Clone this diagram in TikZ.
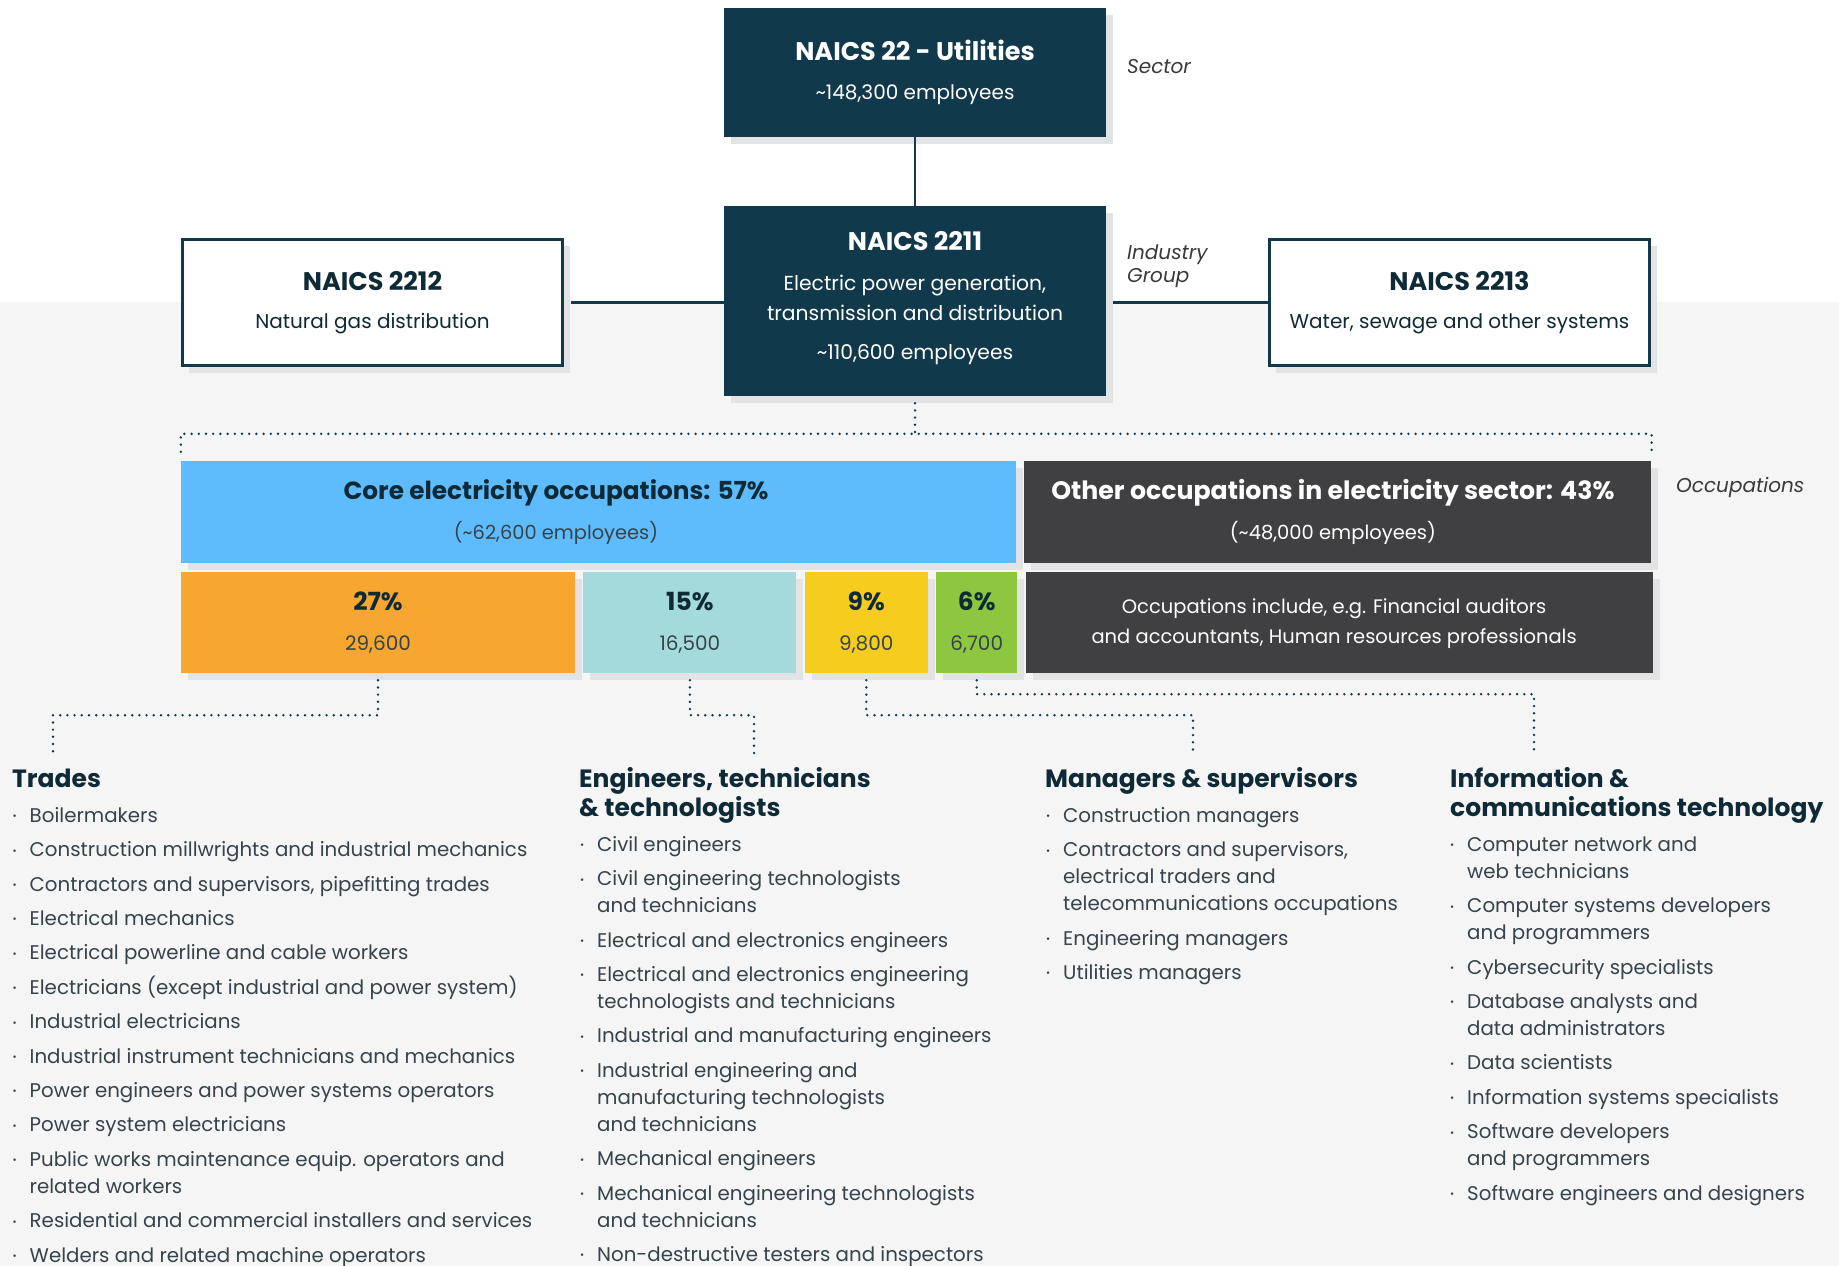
\documentclass[tikz,border=0pt]{standalone}
\usepackage{fontspec}
\setmainfont{Poppins}
\usetikzlibrary{positioning,shadows}

\definecolor{navy}{HTML}{10394B}
\definecolor{ink}{HTML}{0E2A36}
\definecolor{slate}{HTML}{36434A}
\definecolor{paper}{HTML}{F5F5F5}
\definecolor{shade}{HTML}{E2E3E4}
\definecolor{sky}{HTML}{5EBCFD}
\definecolor{coal}{HTML}{404042}
\definecolor{amber}{HTML}{F7A630}
\definecolor{aqua}{HTML}{A5DADC}
\definecolor{lemon}{HTML}{F6CD1F}
\definecolor{leaf}{HTML}{8DC63F}
\definecolor{tagtext}{HTML}{3A3A3A}

\newcommand\fsz[2]{\fontsize{#1}{#2}\selectfont}
\newcommand\bul{\makebox[19pt][l]{\makebox[8pt][c]{\raisebox{2.5pt}{\fsz{10}{10}\textbullet}}}}
\newcommand\cont{\hspace*{19pt}}
\newcommand\nxt{\\[7.4pt]\bul}

\tikzset{
  shadowed/.style={drop shadow={shadow xshift=7pt, shadow yshift=-7pt, fill=shade, opacity=1}},
  navybox/.style={shadowed, fill=navy, text=white, inner sep=0pt, align=center,
    minimum width=382pt, font=\fsz{20}{39.5}},
  whitebox/.style={shadowed, fill=white, draw=navy, line width=2.6pt, text=ink,
    inner sep=0pt, align=center, minimum width=380.4pt, minimum height=126.4pt, font=\fsz{20}{38}},
  bar/.style={shadowed, inner sep=0pt, align=center, font=\fsz{20}{40}, text=slate},
  bartext/.style={inner sep=0pt, align=center},
  link/.style={navy, line width=2.8pt},
  dots/.style={navy, line width=2.7pt, line cap=round, dash pattern=on 0pt off 7.2pt},
  head/.style={anchor=north west, inner sep=0pt, align=left, text=ink, font=\bfseries\fsz{25}{29}},
  list/.style={anchor=north west, inner sep=0pt, align=left, text=slate, font=\fsz{19.8}{27}},
  tag/.style={inner sep=0pt, text=tagtext, font=\itshape\fsz{20}{23.5}}
}

\begin{document}
\begin{tikzpicture}[x=1pt, y=-1pt]
    \useasboundingbox (0,0) rectangle (1839,1266);
    \fill[white] (0,0) rectangle (1839,302);
    \fill[paper] (0,302) rectangle (1839,1266);

    \node[navybox, minimum height=129pt] (sector) at (915,72.5)
      {{\bfseries\fsz{25.5}{39.5}NAICS 22 - Utilities}\\\textasciitilde148,300 employees};
    \node[navybox, minimum height=190pt, text depth=11pt, font=\fsz{20.3}{30}] (group) at (915,301)
      {{\bfseries\fsz{25.5}{30}NAICS 2211}\\[10pt]Electric power generation,\\transmission and distribution\\[9pt]\textasciitilde110,600 employees};
    \node[whitebox] (gas) at (372.5,302.5)
      {{\bfseries\fsz{25.5}{38}NAICS 2212}\\Natural gas distribution};
    \node[whitebox] (water) at (1459.5,302.5)
      {{\bfseries\fsz{25.5}{38}NAICS 2213}\\Water, sewage and other systems};

    \node[tag, anchor=west] (sectortag) at (1127,67) {Sector};
    \node[tag, anchor=west, align=left] (grouptag) at (1127,266) {Industry\\Group};
    \node[tag, anchor=west] (occtag) at (1676,487.5) {Occupations};

    \node[bar, fill=sky, minimum width=835pt, minimum height=102pt] (core) at (598.5,512) {};
    \node[bartext, text=slate, font=\fsz{19.4}{40}] (coretext) at ([xshift=-42.5pt]core.center)
      {{\bfseries\color{ink}\fsz{24.8}{40}Core electricity occupations: 57\%}\\(\textasciitilde62,600 employees)};
    \node[bar, fill=coal, minimum width=627pt, minimum height=102pt, right=8pt of core] (other) {};
    \node[bartext, text=white, font=\fsz{19.5}{40}] (othertext) at ([xshift=-5pt]other.center)
      {{\bfseries\fsz{25.2}{40}Other occupations in electricity sector: 43\%}\\(\textasciitilde48,000 employees)};

    \node[bar, fill=amber, minimum width=394pt, minimum height=101pt] (tradesbar) at (378,622.5)
      {{\bfseries\color{ink}\fsz{25}{40}27\%}\\29,600};
    \node[bar, fill=aqua, minimum width=213pt, minimum height=101pt, right=8pt of tradesbar] (engbar)
      {{\bfseries\color{ink}\fsz{25}{40}15\%}\\16,500};
    \node[bar, fill=lemon, minimum width=123pt, minimum height=101pt, right=8pt of engbar] (mgrbar)
      {{\bfseries\color{ink}\fsz{25}{40}9\%}\\9,800};
    \node[bar, fill=leaf, minimum width=81pt, minimum height=101pt, right=8pt of mgrbar] (ictbar)
      {{\bfseries\color{ink}\fsz{25}{40}6\%}\\6,700};
    \node[bar, fill=coal, minimum width=627pt, minimum height=101pt, right=8pt of ictbar] (otherbar) {};
    \node[bartext, text=white, font=\fsz{19.5}{30}] (otherbartext) at ([xshift=-5pt,yshift=-1.5pt]otherbar.center)
      {Occupations include, e.g. Financial auditors\\and accountants, Human resources professionals};

    \draw[link] (sector) -- (group);
    \draw[link] ([xshift=7pt]gas.east) -- (gas.east -| group.west);
    \draw[link] ([xshift=7pt]group.east |- water.west) -- (water.west);
    \draw[dots] ([yshift=-7pt]group.south) -- ++(0,31);
    \draw[dots] ([yshift=9pt]core.north west) -- ++(0,-18) -| ([yshift=9pt]other.north east);

    \coordinate (tradestip) at (53,754);
    \coordinate (engtip) at (754,754);
    \coordinate (mgrtip) at (1193,754);
    \coordinate (icttip) at (1534,754);
    \draw[dots] ([yshift=-7pt]tradesbar.south) -- ++(0,35) -| (tradestip);
    \draw[dots] ([yshift=-7pt]engbar.south) -- ++(0,35) -| (engtip);
    \draw[dots] ([yshift=-7pt]mgrbar.south) -- ++(0,35) -| (mgrtip);
    \draw[dots] ([yshift=-7pt]ictbar.south) -- ++(0,14) -| (icttip);

    \node[head] (tradeshead) at (12,766.7) {\strut Trades};
    \node[head] (enghead) at (579,766.7) {\strut Engineers, technicians\\\& technologists};
    \node[head] (mgrhead) at (1045,766.7) {\strut Managers \& supervisors};
    \node[head] (icthead) at (1450,766.7) {\strut Information \&\\communications technology};

    \node[list] (tradeslist) at (10.5,803.1)
      {\strut\bul Boilermakers
       \nxt Construction millwrights and industrial mechanics
       \nxt Contractors and supervisors, pipefitting trades
       \nxt Electrical mechanics
       \nxt Electrical powerline and cable workers
       \nxt Electricians (except industrial and power system)
       \nxt Industrial electricians
       \nxt Industrial instrument technicians and mechanics
       \nxt Power engineers and power systems operators
       \nxt Power system electricians
       \nxt Public works maintenance equip. operators and\\\cont related workers
       \nxt Residential and commercial installers and services
       \nxt Welders and related machine operators};
    \node[list] (englist) at (578,832.1)
      {\strut\bul Civil engineers
       \nxt Civil engineering technologists\\\cont and technicians
       \nxt Electrical and electronics engineers
       \nxt Electrical and electronics engineering\\\cont technologists and technicians
       \nxt Industrial and manufacturing engineers
       \nxt Industrial engineering and\\\cont manufacturing technologists\\\cont and technicians
       \nxt Mechanical engineers
       \nxt Mechanical engineering technologists\\\cont and technicians
       \nxt Non-destructive testers and inspectors};
    \node[list] (mgrlist) at (1044,803.1)
      {\strut\bul Construction managers
       \nxt Contractors and supervisors,\\\cont electrical traders and\\\cont telecommunications occupations
       \nxt Engineering managers
       \nxt Utilities managers};
    \node[list] (ictlist) at (1448,832.1)
      {\strut\bul Computer network and\\\cont web technicians
       \nxt Computer systems developers\\\cont and programmers
       \nxt Cybersecurity specialists
       \nxt Database analysts and\\\cont data administrators
       \nxt Data scientists
       \nxt Information systems specialists
       \nxt Software developers\\\cont and programmers
       \nxt Software engineers and designers};
\end{tikzpicture}
\end{document}
